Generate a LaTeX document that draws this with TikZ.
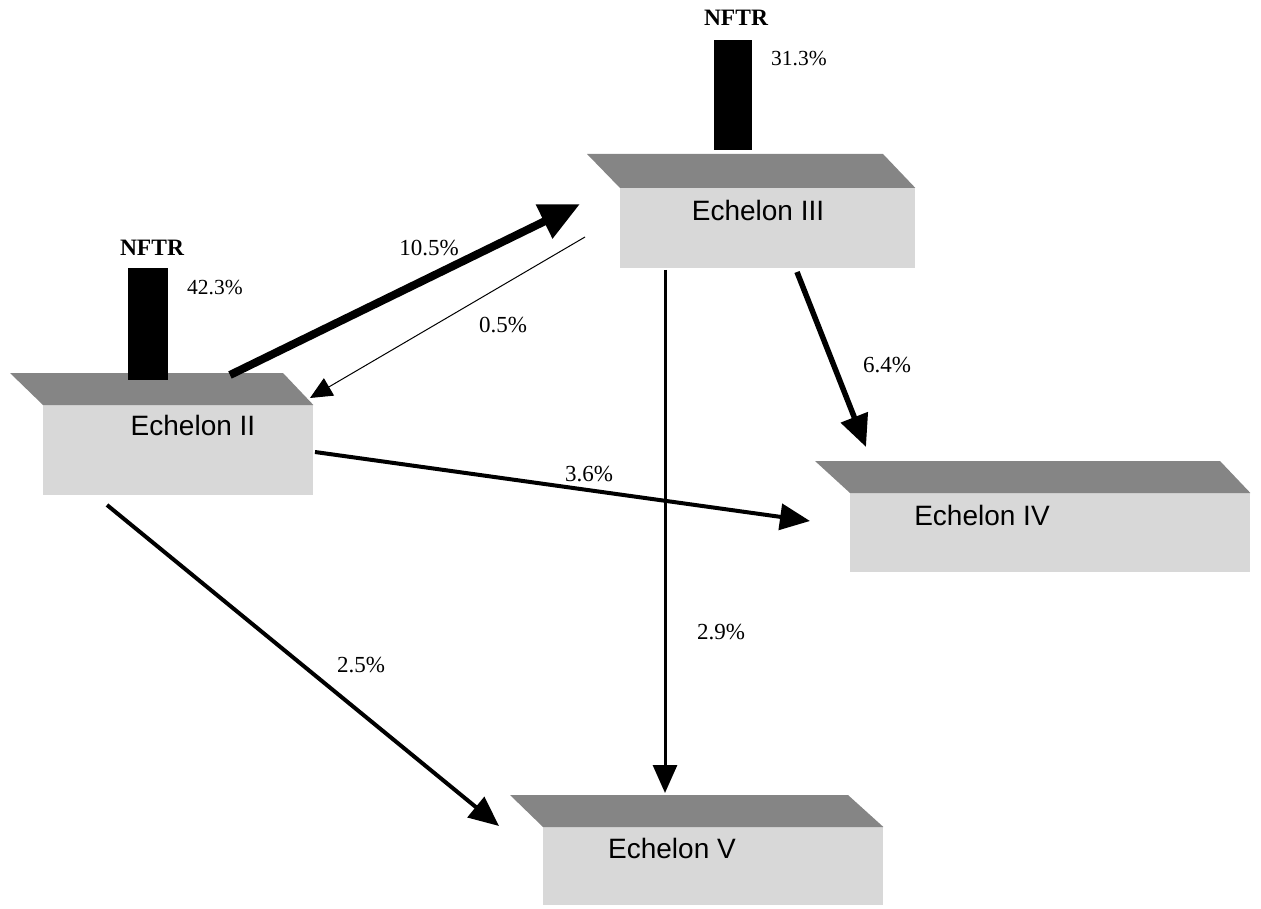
\documentclass[tikz,border=0pt]{standalone}
\usepackage{fontspec}
\setmainfont{Liberation Serif}
\newfontfamily\arialf{Liberation Sans}
\usetikzlibrary{arrows.meta}
\definecolor{topgray}{HTML}{858585}
\definecolor{frontgray}{HTML}{D8D8D8}
\begin{document}
\begin{tikzpicture}[x=1pt,y=-1pt,
  front/.style={fill=frontgray, draw=none, inner sep=0pt, anchor=north west},
  toppart/.style={fill=topgray, draw=none},
  bar/.style={fill=black, draw=none, inner sep=0pt, anchor=south west},
  ename/.style={font=\arialf\fontsize{28}{30}\selectfont, inner sep=0pt},
  pct/.style={font=\fontsize{21.5}{24}\selectfont, inner sep=0pt},
  flowlbl/.style={font=\fontsize{23}{25}\selectfont, inner sep=0pt},
  nftr/.style={font=\bfseries\fontsize{23.5}{25}\selectfont, inner sep=0pt},
]
\useasboundingbox (0,0) rectangle (1261,909);

% Echelon II
\node[front, minimum width=270pt, minimum height=90pt] (e2) at (43,405) {};
\fill[toppart] (e2.north west) -- ++(-33,-32) -- ++(273,0) -- (e2.north east) -- cycle;
\node[ename] (e2t) at (193,425) {Echelon II};
\node[bar, minimum width=40pt, minimum height=112pt] (b2) at (128,380) {};
\node[nftr] (n2) at (152,248) {NFTR};
\node[pct] (p2) at (215,288) {42.3\%};

% Echelon III
\node[front, minimum width=295pt, minimum height=80pt] (e3) at (620,188) {};
\fill[toppart] (e3.north west) -- ++(-33,-34) -- ++(296,0) -- (e3.north east) -- cycle;
\node[ename] (e3t) at (758,210) {Echelon III};
\node[bar, minimum width=38pt, minimum height=110pt] (b3) at (714,150) {};
\node[nftr] (n3) at (736,18) {NFTR};
\node[pct] (p3) at (799,59) {31.3\%};

% Echelon IV
\node[front, minimum width=400pt, minimum height=79pt] (e4) at (850,493) {};
\fill[toppart] (e4.north west) -- ++(-35,-32) -- ++(405,0) -- (e4.north east) -- cycle;
\node[ename] (e4t) at (982,515) {Echelon IV};

% Echelon V
\node[front, minimum width=340pt, minimum height=78pt] (e5) at (543,827) {};
\fill[toppart] (e5.north west) -- ++(-33,-32) -- ++(338,0) -- (e5.north east) -- cycle;
\node[ename] (e5t) at (672,848) {Echelon V};

% connector end points
\coordinate (a1s) at (230,375);
\coordinate (a1e) at (580,204);
\coordinate (a2s) at (585,237);
\coordinate (a2e) at (310,398);
\coordinate (a3s) at (797,272);
\coordinate (a3e) at (866,447);
\coordinate (a4s) at (315,452);
\coordinate (a4e) at (810,521);
\coordinate (a5s) at (665,270);
\coordinate (a5e) at (665,793);
\coordinate (a6s) at (107,505);
\coordinate (a6e) at (499,826);

\draw[line width=8pt, -{Triangle[length=40pt,width=36pt]}] (a1s) -- (a1e);
\draw[line width=1pt, -{Triangle[length=22pt,width=20pt]}] (a2s) -- (a2e);
\draw[line width=5.5pt, -{Triangle[length=32pt,width=28pt]}] (a3s) -- (a3e);
\draw[line width=4pt, -{Triangle[length=30pt,width=26pt]}] (a4s) -- (a4e);
\draw[line width=3pt, -{Triangle[length=28pt,width=24pt]}] (a5s) -- (a5e);
\draw[line width=4pt, -{Triangle[length=30pt,width=26pt]}] (a6s) -- (a6e);

\node[flowlbl] (l1) at (429,248) {10.5\%};
\node[flowlbl] (l2) at (503,325) {0.5\%};
\node[flowlbl] (l3) at (887,365) {6.4\%};
\node[flowlbl] (l4) at (589,474) {3.6\%};
\node[flowlbl] (l5) at (721,632) {2.9\%};
\node[flowlbl] (l6) at (361,665) {2.5\%};
\end{tikzpicture}
\end{document}
